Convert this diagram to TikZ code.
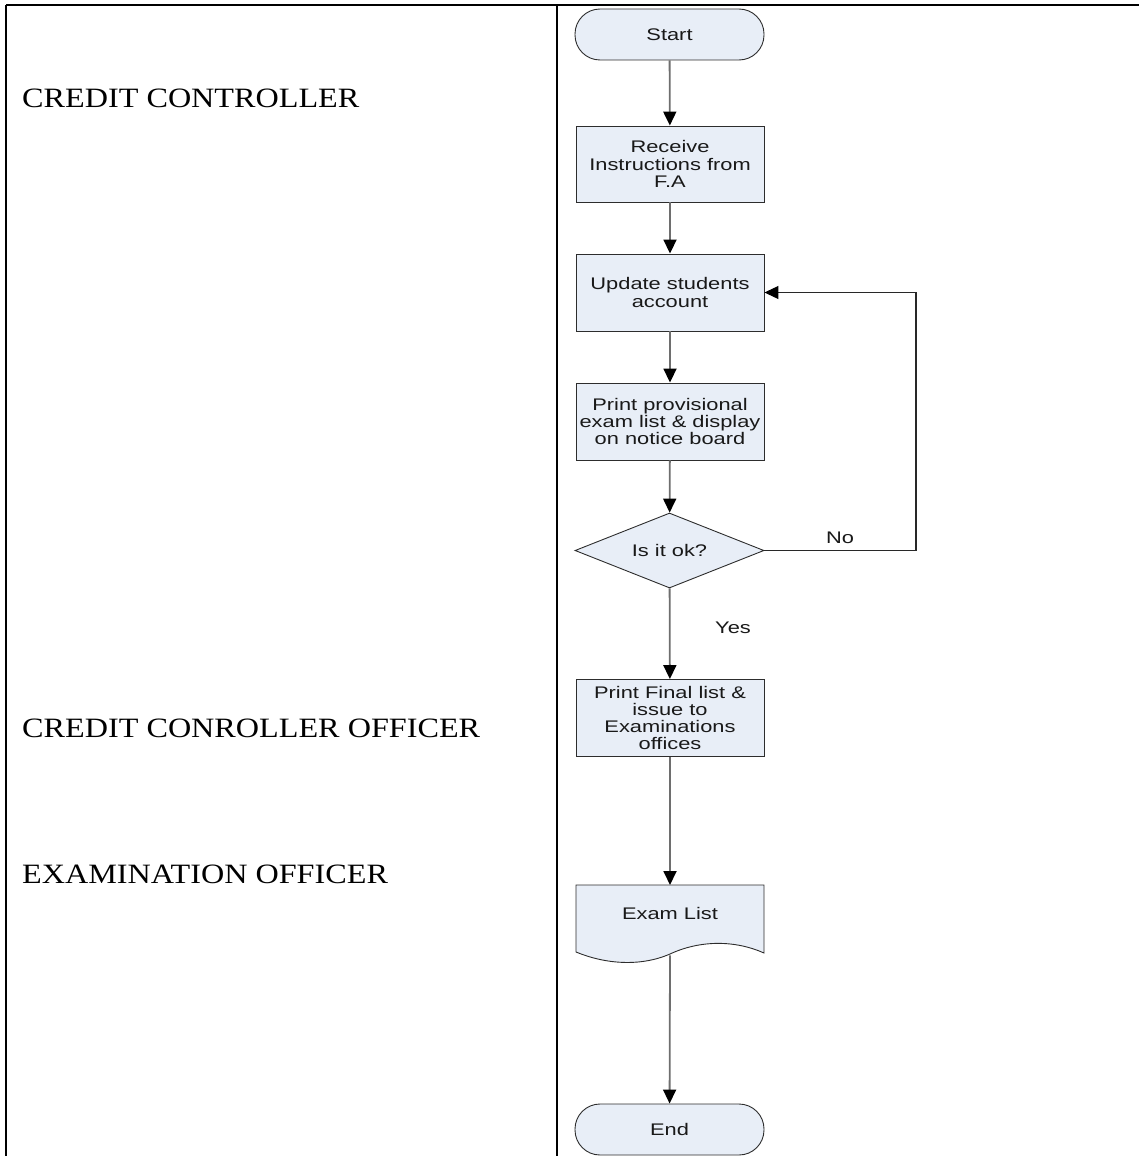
\documentclass[tikz,border=0pt]{standalone}
\usepackage{fontspec}
\setmainfont{Liberation Serif}
\newfontfamily\lanefont[FakeStretch=1.15]{Liberation Serif}
\newfontfamily\flowfont[FakeStretch=1.3]{Liberation Sans}
\usetikzlibrary{arrows.meta,shapes.geometric}
\definecolor{boxfill}{RGB}{232,238,247}
\definecolor{boxline}{RGB}{45,45,45}
\definecolor{conncol}{RGB}{110,110,110}
\definecolor{loopcol}{RGB}{40,40,40}
\tikzset{
  lanerule/.style={draw=black, line width=1.2pt},
  lanelabel/.style={font=\lanefont\fontsize{28}{30}\selectfont, inner sep=0pt, anchor=base west},
  flowtext/.style={font=\flowfont\fontsize{16.8}{17.2}\selectfont, text=black!90},
  stepbox/.style={flowtext, draw=boxline, fill=boxfill, line width=0.9pt, minimum width=188pt, minimum height=77pt, inner sep=0pt, align=center},
  term/.style={stepbox, rounded corners=25pt, minimum width=189pt, minimum height=51pt},
  decision/.style={stepbox, diamond, aspect=2.5, minimum width=189pt, minimum height=75pt},
  conn/.style={draw=conncol, line width=1.8pt, -{Triangle[length=14pt,width=13pt,color=black,fill=black]}},
  loopconn/.style={draw=loopcol, line width=1.1pt, -{Triangle[length=14pt,width=13pt,color=black,fill=black]}},
  lbl/.style={flowtext, inner sep=0pt}
}
\begin{document}
\begin{tikzpicture}[x=1pt,y=-1pt]
\useasboundingbox (0,0) rectangle (1139,1156);
% lanes
\draw[lanerule] (6,5) -- (1139,5);
\draw[lanerule] (6,5) -- (6,1156);
\draw[lanerule] (557,5) -- (557,1156);
\node[lanelabel] (l1) at (22,107) {CREDIT CONTROLLER};
\node[lanelabel] (l2) at (22,737) {CREDIT CONROLLER OFFICER};
\node[lanelabel] (l3) at (22,883) {EXAMINATION OFFICER};
% flow nodes
\node[term] (start) at (669.5,34.5) {Start};
\node[stepbox, minimum height=76pt] (recv) at (670,164) {Receive\\Instructions from\\F.A};
\node[stepbox] (upd) at (670,292.5) {Update students\\account};
\node[stepbox] (prov) at (670,421.5) {Print provisional\\exam list \& display\\on notice board};
\node[decision] (dec) at (669.5,550.5) {Is it ok?};
\node[stepbox] (final) at (670,718) {Print Final list \&\\issue to\\Examinations\\offices};
% document shape
\node[draw=none, minimum width=188pt, minimum height=70pt, inner sep=0pt, anchor=north] (doc) at (670,885) {};
\draw[draw=boxline, fill=boxfill, line width=0.9pt]
  (576,885) -- (764,885) -- (764,953)
  .. controls (735,940) and (700,940) .. (670,954)
  .. controls (640,967) and (605,964) .. (576,952) -- cycle;
\node[lbl] (doctext) at (670,913) {Exam List};
\node[term] (end) at (669.5,1129.5) {End};
% connectors
\draw[conn] (start) -- (recv);
\draw[conn] (recv) -- (upd);
\draw[conn] (upd) -- (prov);
\draw[conn] (prov) -- (dec);
\draw[conn] (dec) -- (final);
\draw[conn] (final) -- (doc.north);
\draw[conn] (doc.south) -- (end);
\coordinate (loopc) at (916,550.5);
\draw[loopconn] (dec.east) -- (loopc) |- (upd.east);
% labels
\node[lbl] (nolbl) at (840,538) {No};
\node[lbl] (yeslbl) at (733,628) {Yes};
\end{tikzpicture}
\end{document}
